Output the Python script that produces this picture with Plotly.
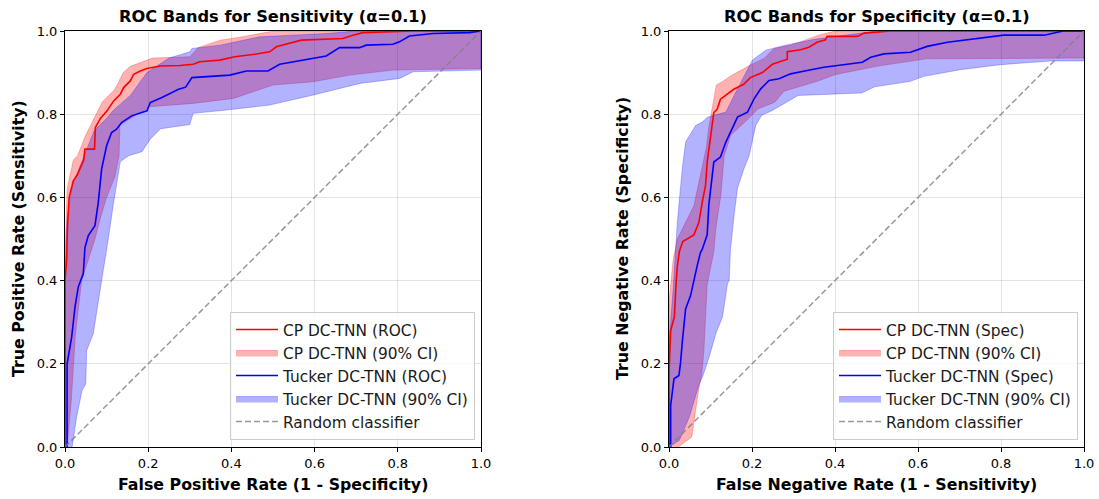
import plotly.graph_objects as go

# ---------------- Data ----------------
# Left panel: ROC (sensitivity)
cp_roc_x = [0, 0, 0.004, 0.006, 0.01, 0.02, 0.03, 0.045, 0.048, 0.071, 0.073, 0.085, 0.101, 0.109, 0.117, 0.133,
            0.141, 0.157, 0.165, 0.181, 0.197, 0.229, 0.276, 0.308, 0.324, 0.372, 0.408, 0.456, 0.492, 0.508,
            0.568, 0.668, 0.692, 0.716, 0.836, 1.0]
cp_roc_y = [0, 0.40, 0.45, 0.53, 0.60, 0.64, 0.655, 0.69, 0.716, 0.716, 0.768, 0.79, 0.808, 0.82, 0.832, 0.848,
            0.864, 0.88, 0.896, 0.904, 0.91, 0.916, 0.917, 0.92, 0.926, 0.93, 0.938, 0.944, 0.95, 0.962,
            0.978, 0.982, 0.99, 0.996, 1.0, 1.0]
cp_roc_up_x = [0, 0, 0.005, 0.02, 0.03, 0.05, 0.07, 0.09, 0.12, 0.14, 0.157, 0.21, 0.30, 0.32, 0.373, 0.42, 0.485, 0.50, 1.0]
cp_roc_up_y = [0, 0.45, 0.62, 0.69, 0.70, 0.75, 0.79, 0.83, 0.86, 0.90, 0.915, 0.935, 0.938, 0.96, 0.978, 0.985, 0.997, 1.0, 1.0]
cp_roc_lo_x = [0.005, 0.015, 0.025, 0.04, 0.05, 0.072, 0.085, 0.10, 0.12, 0.13, 0.132, 0.204, 0.308, 0.405, 0.50, 0.597,
               0.685, 0.789, 1.0]
cp_roc_lo_y = [0.0, 0.11, 0.27, 0.40, 0.43, 0.50, 0.55, 0.60, 0.65, 0.70, 0.774, 0.818, 0.826, 0.838, 0.87, 0.878,
               0.894, 0.906, 0.91]

tk_roc_x = [0, 0.005, 0.005, 0.016, 0.024, 0.032, 0.044, 0.048, 0.056, 0.072, 0.08, 0.088, 0.10, 0.112, 0.124, 0.136,
            0.16, 0.197, 0.205, 0.233, 0.273, 0.29, 0.305, 0.396, 0.436, 0.488, 0.516, 0.596, 0.628, 0.66, 0.708,
            0.724, 0.788, 0.804, 0.828, 0.885, 0.972, 1.0]
tk_roc_y = [0, 0.0, 0.2, 0.264, 0.336, 0.385, 0.417, 0.48, 0.508, 0.532, 0.588, 0.668, 0.724, 0.756, 0.764, 0.78,
            0.796, 0.808, 0.828, 0.84, 0.86, 0.865, 0.888, 0.894, 0.904, 0.904, 0.92, 0.934, 0.94, 0.96, 0.96,
            0.966, 0.968, 0.974, 0.988, 0.994, 0.996, 1.0]
tk_roc_up_x = [0, 0, 0.005, 0.018, 0.05, 0.07, 0.10, 0.117, 0.157, 0.197, 0.25, 0.30, 0.305, 0.373, 0.468, 0.629, 0.70, 1.0]
tk_roc_up_y = [0, 0.40, 0.55, 0.63, 0.71, 0.76, 0.79, 0.81, 0.845, 0.90, 0.935, 0.95, 0.958, 0.966, 0.986, 0.994, 1.0, 1.0]
tk_roc_lo_x = [0.017, 0.028, 0.041, 0.05, 0.052, 0.068, 0.08, 0.092, 0.10, 0.104, 0.116, 0.133, 0.153, 0.185, 0.205,
               0.23, 0.30, 0.308, 0.388, 0.492, 0.597, 0.709, 0.805, 0.837, 1.0]
tk_roc_lo_y = [0.0, 0.072, 0.136, 0.152, 0.232, 0.272, 0.352, 0.425, 0.473, 0.49, 0.582, 0.686, 0.70, 0.71, 0.74,
               0.765, 0.775, 0.802, 0.81, 0.822, 0.846, 0.874, 0.886, 0.902, 0.906]

# Right panel: specificity
cp_spec_x = [0, 0, 0.004, 0.013, 0.017, 0.02, 0.025, 0.033, 0.06, 0.072, 0.08, 0.088, 0.092, 0.096, 0.104, 0.108,
             0.116, 0.124, 0.156, 0.18, 0.196, 0.225, 0.249, 0.285, 0.285, 0.317, 0.337, 0.357, 0.377, 0.381,
             0.454, 0.47, 0.534, 1.0]
cp_spec_y = [0, 0.178, 0.28, 0.313, 0.393, 0.433, 0.47, 0.494, 0.51, 0.54, 0.588, 0.628, 0.685, 0.717, 0.78, 0.804,
             0.812, 0.836, 0.86, 0.872, 0.888, 0.90, 0.92, 0.932, 0.95, 0.955, 0.961, 0.973, 0.979, 0.987,
             0.987, 0.995, 1.0, 1.0]
cp_spec_up_x = [0, 0, 0.01, 0.02, 0.04, 0.06, 0.075, 0.09, 0.096, 0.108, 0.114, 0.128, 0.152, 0.196, 0.229, 0.253,
                0.293, 0.32, 0.36, 0.40, 1.0]
cp_spec_up_y = [0, 0.35, 0.45, 0.50, 0.54, 0.58, 0.65, 0.72, 0.77, 0.84, 0.87, 0.878, 0.894, 0.918, 0.934, 0.958,
                0.966, 0.975, 0.99, 1.0, 1.0]
cp_spec_lo_x = [0.022, 0.055, 0.063, 0.071, 0.079, 0.084, 0.088, 0.092, 0.108, 0.113, 0.125, 0.133, 0.149, 0.183,
                0.215, 0.255, 0.277, 0.357, 0.40, 0.50, 0.62, 1.0]
cp_spec_lo_y = [0.0, 0.024, 0.08, 0.135, 0.175, 0.23, 0.31, 0.39, 0.47, 0.526, 0.606, 0.70, 0.75, 0.781,
                0.813, 0.829, 0.855, 0.879, 0.895, 0.915, 0.933, 0.935]

tk_spec_x = [0, 0.004, 0.004, 0.012, 0.024, 0.028, 0.032, 0.04, 0.052, 0.06, 0.068, 0.076, 0.08, 0.092, 0.096, 0.108,
             0.124, 0.137, 0.153, 0.165, 0.189, 0.205, 0.221, 0.241, 0.265, 0.293, 0.333, 0.373, 0.406, 0.466,
             0.486, 0.518, 0.582, 0.622, 0.671, 0.759, 0.807, 0.904, 0.936, 0.95, 1.0]
tk_spec_y = [0, 0.0, 0.10, 0.164, 0.172, 0.204, 0.252, 0.332, 0.364, 0.404, 0.436, 0.468, 0.475, 0.51, 0.582, 0.685,
             0.697, 0.733, 0.765, 0.793, 0.805, 0.837, 0.861, 0.881, 0.885, 0.897, 0.905, 0.913, 0.917, 0.925,
             0.937, 0.945, 0.949, 0.963, 0.973, 0.985, 0.99, 0.99, 0.998, 1.0, 1.0]
tk_spec_up_x = [0, 0, 0.01, 0.015, 0.02, 0.032, 0.04, 0.064, 0.08, 0.093, 0.137, 0.161, 0.185, 0.201, 0.233, 0.281,
                0.35, 0.47, 0.50, 1.0]
tk_spec_up_y = [0, 0.25, 0.38, 0.45, 0.54, 0.67, 0.733, 0.773, 0.781, 0.793, 0.805, 0.853, 0.90, 0.93, 0.954, 0.966,
                0.98, 0.995, 1.0, 1.0]
tk_spec_lo_x = [0.0, 0.025, 0.049, 0.073, 0.081, 0.097, 0.113, 0.129, 0.141, 0.145, 0.148, 0.157, 0.165, 0.181,
                0.193, 0.201, 0.209, 0.223, 0.249, 0.311, 0.40, 0.464, 0.496, 0.582, 0.614, 0.702, 0.799, 0.92, 1.0]
tk_spec_lo_y = [0.0, 0.016, 0.072, 0.152, 0.169, 0.217, 0.273, 0.313, 0.393, 0.40, 0.473, 0.558, 0.622, 0.67,
                0.70, 0.74, 0.773, 0.797, 0.809, 0.845, 0.849, 0.851, 0.866, 0.879, 0.891, 0.907, 0.919, 0.928, 0.928]

diag_x = [0, 1]
diag_y = [0, 1]

tick_vals = [0.0, 0.2, 0.4, 0.6, 0.8, 1.0]
tick_text = ["0.0", "0.2", "0.4", "0.6", "0.8", "1.0"]

titles = ["ROC Bands for Sensitivity (α=0.1)", "ROC Bands for Specificity (α=0.1)"]
xlabels = ["False Positive Rate (1 - Specificity)", "False Negative Rate (1 - Sensitivity)"]
ylabels = ["True Positive Rate (Sensitivity)", "True Negative Rate (Specificity)"]
line_names = ["ROC", "Spec"]

# ---------------- Figure ----------------
W, H = 1099, 499
FONT = "DejaVu Sans"
RED = "#ff0000"
BLUE = "#0000ff"
RED_FILL = "rgba(255,0,0,0.3)"
BLUE_FILL = "rgba(0,0,255,0.3)"

panels = [
    dict(cp=(cp_roc_x, cp_roc_y), cp_up=(cp_roc_up_x, cp_roc_up_y), cp_lo=(cp_roc_lo_x, cp_roc_lo_y),
         tk=(tk_roc_x, tk_roc_y), tk_up=(tk_roc_up_x, tk_roc_up_y), tk_lo=(tk_roc_lo_x, tk_roc_lo_y)),
    dict(cp=(cp_spec_x, cp_spec_y), cp_up=(cp_spec_up_x, cp_spec_up_y), cp_lo=(cp_spec_lo_x, cp_spec_lo_y),
         tk=(tk_spec_x, tk_spec_y), tk_up=(tk_spec_up_x, tk_spec_up_y), tk_lo=(tk_spec_lo_x, tk_spec_lo_y)),
]

# pixel geometry of the two plotting areas
px_left = [65, 669]
px_right = [481, 1084]
py_top, py_bot = 31, 447
ML, MR, MT, MB = px_left[0], W - px_right[1], py_top, H - py_bot
IW, IH = W - ML - MR, H - MT - MB


def pxx(px):
    return (px - ML) / IW


def pxy(py):
    return (py_bot - py) / IH


fig = go.Figure()


def band(up, lo):
    xs = list(up[0]) + list(lo[0])[::-1]
    ys = list(up[1]) + list(lo[1])[::-1]
    return xs, ys


for i, p in enumerate(panels):
    xa = "x" if i == 0 else "x2"
    ya = "y" if i == 0 else "y2"
    lg = "legend" if i == 0 else "legend2"
    bx, by = band(p["cp_up"], p["cp_lo"])
    fig.add_trace(go.Scatter(x=bx, y=by, fill="toself", fillcolor=RED_FILL, mode="lines",
                             line=dict(color="rgba(255,0,0,0.25)", width=1),
                             name="CP DC-TNN (90% CI)", xaxis=xa, yaxis=ya, legend=lg, legendrank=2))
    bx, by = band(p["tk_up"], p["tk_lo"])
    fig.add_trace(go.Scatter(x=bx, y=by, fill="toself", fillcolor=BLUE_FILL, mode="lines",
                             line=dict(color="rgba(0,0,255,0.25)", width=1),
                             name="Tucker DC-TNN (90% CI)", xaxis=xa, yaxis=ya, legend=lg, legendrank=4))
    fig.add_trace(go.Scatter(x=p["cp"][0], y=p["cp"][1], mode="lines", line=dict(color=RED, width=1.6),
                             name=f"CP DC-TNN ({line_names[i]})", xaxis=xa, yaxis=ya, legend=lg, legendrank=1))
    fig.add_trace(go.Scatter(x=p["tk"][0], y=p["tk"][1], mode="lines", line=dict(color=BLUE, width=1.6),
                             name=f"Tucker DC-TNN ({line_names[i]})", xaxis=xa, yaxis=ya, legend=lg, legendrank=3))
    fig.add_trace(go.Scatter(x=diag_x, y=diag_y, mode="lines",
                             line=dict(color="rgba(128,128,128,0.8)", width=1.5, dash="6px,3px"),
                             name="Random classifier", xaxis=xa, yaxis=ya, legend=lg, legendrank=5))

axis_common = dict(range=[0, 1], tickvals=tick_vals, ticktext=tick_text, showgrid=True,
                   gridcolor="rgba(176,176,176,0.35)", gridwidth=1, zeroline=False,
                   showline=True, linecolor="black", linewidth=1, mirror=True,
                   ticks="outside", ticklen=4, tickcolor="black", tickwidth=1, automargin=False,
                   tickfont=dict(family=FONT, size=13, color="black"))

layout = dict(width=W, height=H, margin=dict(l=ML, r=MR, t=MT, b=MB, autoexpand=False), plot_bgcolor="white",
              paper_bgcolor="white", font=dict(family=FONT, color="black"), showlegend=True)
for i in range(2):
    sfx = "" if i == 0 else "2"
    layout["xaxis" + sfx] = dict(axis_common, domain=[pxx(px_left[i]), pxx(px_right[i])], anchor="y" + sfx)
    layout["yaxis" + sfx] = dict(axis_common, domain=[0, 1], anchor="x" + sfx)
    layout["legend" if i == 0 else "legend2"] = dict(
        x=pxx(px_right[i] - 6), y=pxy(440), xanchor="right", yanchor="bottom",
        bgcolor="rgba(255,255,255,0.8)", bordercolor="#cccccc", borderwidth=1,
        font=dict(family=FONT, size=15.4, color="#1a1a1a"), tracegroupgap=0, itemwidth=42)
fig.update_layout(**layout)

ann = []
for i in range(2):
    cxp = (px_left[i] + px_right[i]) / 2
    ann.append(dict(text=f"<b>{titles[i]}</b>", x=pxx(cxp), y=pxy(16), xref="paper", yref="paper",
                    showarrow=False, font=dict(family=FONT, size=16.2, color="black"), xanchor="center",
                    yanchor="middle"))
    ann.append(dict(text=f"<b>{xlabels[i]}</b>", x=pxx(cxp), y=pxy(484), xref="paper", yref="paper",
                    showarrow=False, font=dict(family=FONT, size=15.8, color="black"), xanchor="center",
                    yanchor="middle"))
    ann.append(dict(text=f"<b>{ylabels[i]}</b>", x=pxx(px_left[i] - 47), y=pxy((py_top + py_bot) / 2),
                    xref="paper", yref="paper", showarrow=False, textangle=-90,
                    font=dict(family=FONT, size=15.8, color="black"), xanchor="center", yanchor="middle"))
fig.update_layout(annotations=ann)

fig.write_html("out.html", config={"displayModeBar": False},
               post_script="document.body.style.margin='0';document.body.style.overflow='hidden';")
